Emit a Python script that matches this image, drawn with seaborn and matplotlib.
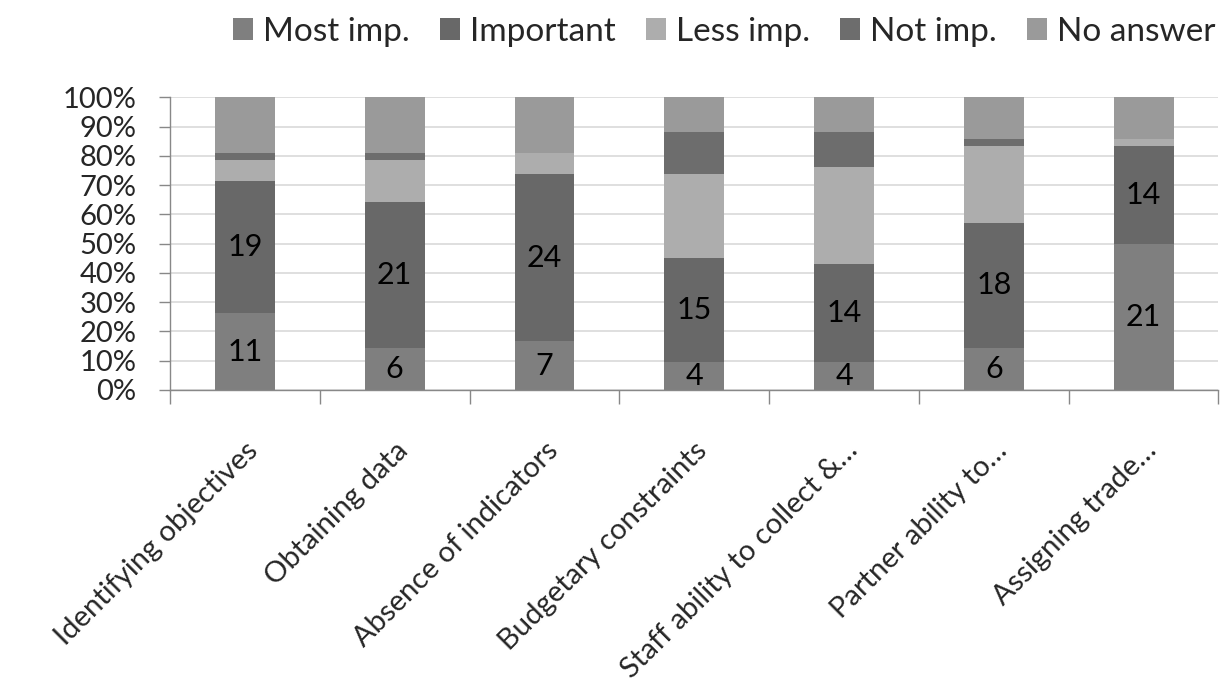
import numpy as np
import pandas as pd
import matplotlib
matplotlib.use("Agg")
import matplotlib.pyplot as plt
from matplotlib.patches import Patch
import seaborn as sns

categories = ["Identifying objectives", "Obtaining data", "Absence of indicators",
              "Budgetary constraints", "Staff ability to collect &\u2026",
              "Partner ability to\u2026", "Assigning trade\u2026"]
series = ["Most imp.", "Important", "Less imp.", "Not imp.", "No answer"]
most_imp = [11, 6, 7, 4, 4, 6, 21]
important = [19, 21, 24, 15, 14, 18, 14]
less_imp = [3, 6, 3, 12, 14, 11, 1]
not_imp = [1, 1, 0, 6, 5, 1, 0]
no_answer = [8, 8, 8, 5, 5, 6, 6]
colors = ["#7f7f7f", "#686868", "#adadad", "#6d6d6d", "#9a9a9a"]
labelled = ["Most imp.", "Important"]

sns.set_theme(style="white")
plt.rcParams["font.family"] = ["Lato", "DejaVu Sans"]

counts = np.array([most_imp, important, less_imp, not_imp, no_answer], dtype=float)
totals = counts.sum(axis=0)
pct = counts / totals * 100
cum = np.cumsum(pct, axis=0)

fig = plt.figure(figsize=(12.32, 6.95), dpi=100)
ax = fig.add_axes([0.138, 0.439, 0.851, 0.421])

for i in reversed(range(len(series))):
    df = pd.DataFrame({"category": categories, "value": cum[i]})
    sns.barplot(data=df, x="category", y="value", color=colors[i], width=0.4,
                saturation=1, ax=ax, order=categories, linewidth=0, zorder=2)

for i, s in enumerate(series):
    if s not in labelled:
        continue
    for j in range(len(categories)):
        bottom = cum[i][j] - pct[i][j]
        ax.text(j, bottom + pct[i][j] / 2, f"{int(counts[i][j])}", ha="center",
                va="center", fontsize=22, color="black", zorder=3)

ax.set_ylim(0, 100)
ax.set_xlim(-0.5, len(categories) - 0.5)
ax.set_yticks(np.arange(0, 101, 10))
ax.set_yticklabels([f"{v}%" for v in range(0, 101, 10)], fontsize=21)
ax.yaxis.grid(True, color="#d9d9d9", linewidth=1.2, zorder=0)
ax.set_axisbelow(True)
ax.set_xlabel("")
ax.set_ylabel("")
ax.set_xticks(range(len(categories)))
ax.set_xticklabels(categories, rotation=45, ha="right", rotation_mode="anchor", fontsize=21)
ax.set_xticks(np.arange(-0.5, len(categories), 1), minor=True)
ax.tick_params(axis="x", which="major", length=0, pad=34)
ax.tick_params(axis="x", which="minor", length=10, color="#888888", width=1, direction="out", bottom=True)
ax.tick_params(axis="y", length=8, color="#888888", width=1, left=True, pad=16, direction="out")
for side in ["top", "right"]:
    ax.spines[side].set_visible(False)
for side in ["left", "bottom"]:
    ax.spines[side].set_color("#888888")
    ax.spines[side].set_linewidth(1)

handles = [Patch(facecolor=c, edgecolor="none", label=s) for s, c in zip(series, colors)]
fig.legend(handles=handles, loc="upper right", bbox_to_anchor=(1.0, 1.0), ncol=5,
           frameon=False, fontsize=24, handlelength=0.6, handleheight=0.6,
           handletextpad=0.3, columnspacing=0.9, borderaxespad=0.1)

fig.savefig("out.png", dpi=100)
